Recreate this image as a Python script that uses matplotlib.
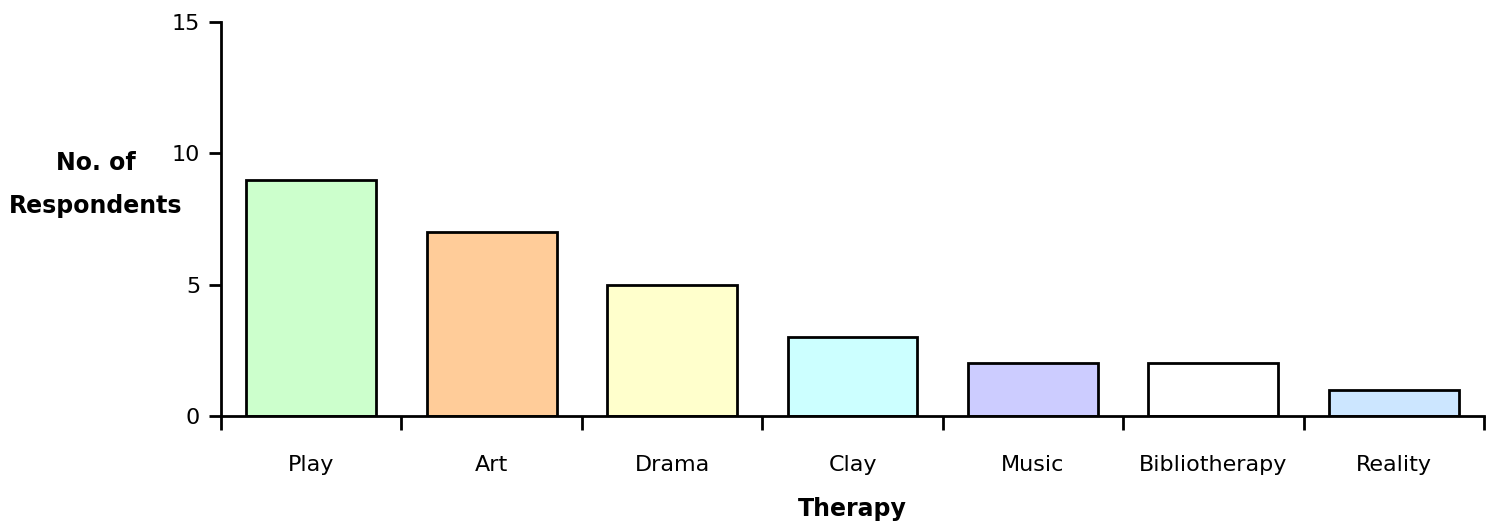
import numpy as np
import matplotlib.pyplot as plt

# respondentes por tipo de terapia
therapies = ["Play", "Art", "Drama", "Clay", "Music", "Bibliotherapy", "Reality"]
respondents = [9, 7, 5, 3, 2, 2, 1]
barColors = ["#CCFFCC", "#FFCC99", "#FFFFCC", "#CCFFFF", "#CCCCFF", "#FFFFFF", "#CCE6FF"]

plt.rcParams['font.family'] = ['DejaVu Sans']

fig = plt.figure(figsize=(14.93, 5.27), dpi=100)
ax = fig.add_axes([0.148, 0.2106, 0.846, 0.7476])

x = np.arange(len(therapies))
ax.bar(x, respondents, width=0.72, color=barColors, edgecolor="black", linewidth=2, zorder=2)

# eixos
ax.set_xlim(-0.5, len(therapies) - 0.5)
ax.set_ylim(0, 15)
ax.set_yticks([0, 5, 10, 15])
ax.spines['top'].set_visible(False)
ax.spines['right'].set_visible(False)
ax.spines['left'].set_linewidth(2)
ax.spines['bottom'].set_linewidth(2)

# ticks entre as categorias, rotulos no centro
ax.set_xticks(np.arange(-0.5, len(therapies)), labels=[])
ax.set_xticks(x, labels=therapies, minor=True)
ax.tick_params(axis='x', which='major', direction='out', length=10, width=2)
ax.tick_params(axis='x', which='minor', length=0, pad=28, labelsize=16)
ax.tick_params(axis='y', direction='out', length=9, width=2, labelsize=16, pad=6)

ax.set_xlabel("Therapy", fontsize=17, fontweight='bold', labelpad=16)
# titulo do eixo y na horizontal, em duas linhas
fig.text(0.064, 0.691, "No. of", ha='center', va='center', fontsize=17, fontweight='bold')
fig.text(0.064, 0.609, "Respondents", ha='center', va='center', fontsize=17, fontweight='bold')

plt.savefig("out.png", dpi=100)
